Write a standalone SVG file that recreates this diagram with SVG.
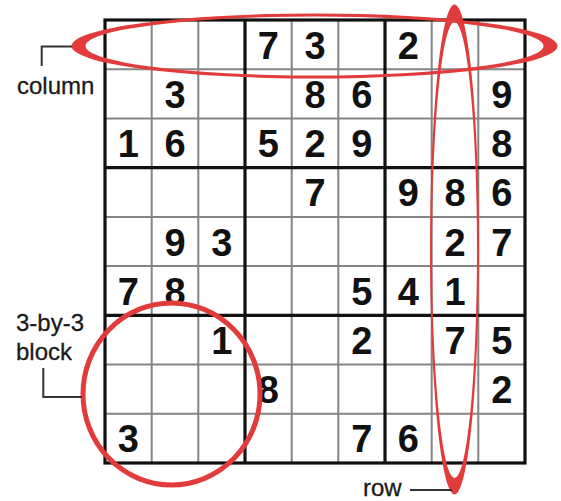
<svg xmlns="http://www.w3.org/2000/svg" width="561" height="501" viewBox="0 0 561 501">
<style>
.bg{fill:#ffffff}
.thin{stroke:#858585;stroke-width:2;fill:none}
.thick{stroke:#111111;stroke-width:3.2;fill:none}
.d{font-family:"Liberation Sans",Arial,sans-serif;font-weight:bold;font-size:38px;fill:#111111;text-anchor:middle}
.lbl{font-family:"Liberation Sans",Arial,sans-serif;font-size:24px;fill:#1a1a1a;stroke:#1a1a1a;stroke-width:0.3}
.brk{stroke:#333333;stroke-width:2;fill:none}
.red{fill:#e23b3b;fill-rule:evenodd}
.redc{fill:none;stroke:#e23b3b;stroke-width:5}
</style>
<rect class="bg" x="0" y="0" width="561" height="501"/>
<g id="grid">
<path class="thin" d="M151.7 20V463M198.3 20V463M291.7 20V463M338.3 20V463M431.7 20V463M478.3 20V463M105 69.2H525M105 118.4H525M105 216.9H525M105 266.1H525M105 364.6H525M105 413.8H525"/>
<path class="thick" d="M245 20V463M385 20V463M105 167.7H525M105 315.3H525"/>
<rect class="thick" x="105" y="20" width="420" height="443" stroke-width="3.6"/>
</g>
<g id="digits">
<text class="d" x="268.3" y="58.6">7</text><text class="d" x="315" y="58.6">3</text><text class="d" x="408.3" y="58.6">2</text>
<text class="d" x="175" y="107.8">3</text><text class="d" x="315" y="107.8">8</text><text class="d" x="361.7" y="107.8">6</text><text class="d" x="501.7" y="107.8">9</text>
<text class="d" x="128.3" y="157">1</text><text class="d" x="175" y="157">6</text><text class="d" x="268.3" y="157">5</text><text class="d" x="315" y="157">2</text><text class="d" x="361.7" y="157">9</text><text class="d" x="501.7" y="157">8</text>
<text class="d" x="315" y="206.3">7</text><text class="d" x="408.3" y="206.3">9</text><text class="d" x="455" y="206.3">8</text><text class="d" x="501.7" y="206.3">6</text>
<text class="d" x="175" y="255.5">9</text><text class="d" x="221.7" y="255.5">3</text><text class="d" x="455" y="255.5">2</text><text class="d" x="501.7" y="255.5">7</text>
<text class="d" x="128.3" y="304.7">7</text><text class="d" x="175" y="304.7">8</text><text class="d" x="361.7" y="304.7">5</text><text class="d" x="408.3" y="304.7">4</text><text class="d" x="455" y="304.7">1</text>
<text class="d" x="221.7" y="354">1</text><text class="d" x="361.7" y="354">2</text><text class="d" x="455" y="354">7</text><text class="d" x="501.7" y="354">5</text>
<text class="d" x="268.3" y="403.2">8</text><text class="d" x="501.7" y="403.2">2</text>
<text class="d" x="128.3" y="452.4">3</text><text class="d" x="361.7" y="452.4">7</text><text class="d" x="408.3" y="452.4">6</text>
</g>
<g id="row-mark">
<path class="red" d="M71.5 46a243 32.5 0 1 0 486 0a243 32.5 0 1 0 -486 0ZM85.5 46a229 29.5 0 1 0 458 0a229 29.5 0 1 0 -458 0Z"/>
</g>
<g id="column-mark">
<path class="red" d="M454.5 4.5a24.5 245 0 1 0 0 490a24.5 245 0 1 0 0 -490ZM454.5 22a22.5 228 0 1 0 0 456a22.5 228 0 1 0 0 -456Z"/>
</g>
<g id="block-mark">
<ellipse class="redc" cx="171.5" cy="394" rx="88.5" ry="91"/>
</g>
<g id="connectors">
<path class="brk" d="M41.7 66V46.5H72"/>
<path class="brk" d="M43.3 368V397H82"/>
<path class="brk" d="M410 490H452"/>
</g>
<g id="labels">
<text class="lbl" x="17" y="94">column</text>
<text class="lbl" x="16" y="331">3-by-3</text>
<text class="lbl" x="16" y="360">block</text>
<text class="lbl" x="363" y="496">row</text>
</g>
</svg>
